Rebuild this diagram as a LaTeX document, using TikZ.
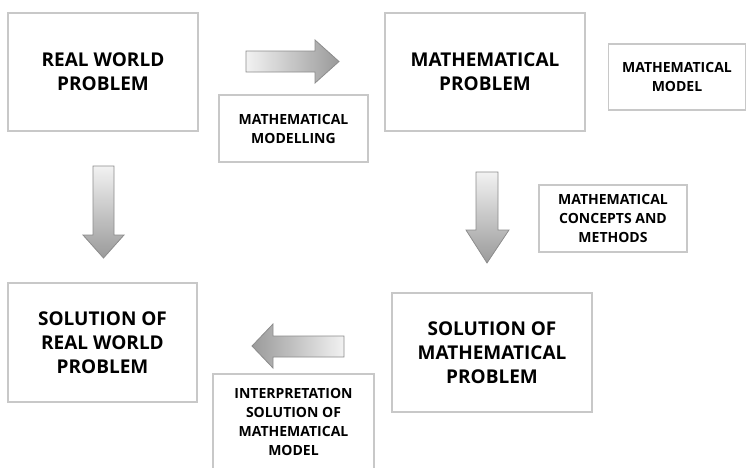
\documentclass[tikz,border=0pt]{standalone}
\usepackage{fontspec}
\setmainfont{Open Sans}
\begin{document}
\begin{tikzpicture}[x=1pt,y=-1pt,
  bigbox/.style={draw=boxgray, line width=2pt, fill=white, align=center,
    inner sep=0pt, font=\bfseries\fontsize{19}{24}\selectfont},
  smalltext/.style={align=center, inner sep=0pt, font=\bfseries\fontsize{14}{19}\selectfont},
  smallbox/.style={smalltext, draw=boxgray, line width=1.5pt, fill=white},
  flowarrow/.style={draw=arrowgray, line width=0.8pt}]
\definecolor{boxgray}{HTML}{C8C8C8}
\definecolor{arrowgray}{HTML}{8C8C8C}
\definecolor{lightfill}{HTML}{F2F2F2}
\definecolor{darkfill}{HTML}{9A9A9A}
\useasboundingbox (0,0) rectangle (750,467);

% main stages
\node[bigbox, minimum width=190, minimum height=118] (real) at (103,72) {REAL WORLD\\PROBLEM};
\node[bigbox, minimum width=200, minimum height=118] (mprob) at (485,72) {MATHEMATICAL\\PROBLEM};
\node[bigbox, minimum width=189, minimum height=119] (rsol) at (102.5,342.5) {SOLUTION OF\\REAL WORLD\\PROBLEM};
\node[bigbox, minimum width=200, minimum height=119] (msol) at (492,352.5) {SOLUTION OF\\MATHEMATICAL\\PROBLEM};

% step labels
\node[smallbox, minimum width=149, minimum height=67] (modelling) at (293.5,128.5) {MATHEMATICAL\\MODELLING};
\node[smallbox, minimum width=137, minimum height=66] (model) at (677,77) {MATHEMATICAL\\MODEL};
\node[smallbox, minimum width=148, minimum height=67] (concepts) at (613,218.5) {MATHEMATICAL\\CONCEPTS AND\\METHODS};
\draw[boxgray, line width=1.5pt] (213,470) -- (213,374) -- (374,374) -- (374,470);
\node[smalltext, anchor=north] (interp) at (293.5,388)
  {INTERPRETATION\\SOLUTION OF\\MATHEMATICAL\\MODEL};

% shaded block arrows
\shadedraw[flowarrow, left color=lightfill, right color=darkfill]
  (246,51) -- (315,51) -- (315,40) -- (339,61.5) -- (315,83) -- (315,72) -- (246,72) -- cycle;
\shadedraw[flowarrow, top color=lightfill, bottom color=darkfill]
  (93,166) -- (114,166) -- (114,235) -- (124,235) -- (103.5,258) -- (83,235) -- (93,235) -- cycle;
\shadedraw[flowarrow, top color=lightfill, bottom color=darkfill]
  (476,172) -- (498,172) -- (498,230) -- (509,230) -- (487,263) -- (466,230) -- (476,230) -- cycle;
\shadedraw[flowarrow, right color=lightfill, left color=darkfill]
  (344,336) -- (273,336) -- (273,324) -- (252,346) -- (273,368) -- (273,357) -- (344,357) -- cycle;
\end{tikzpicture}
\end{document}
